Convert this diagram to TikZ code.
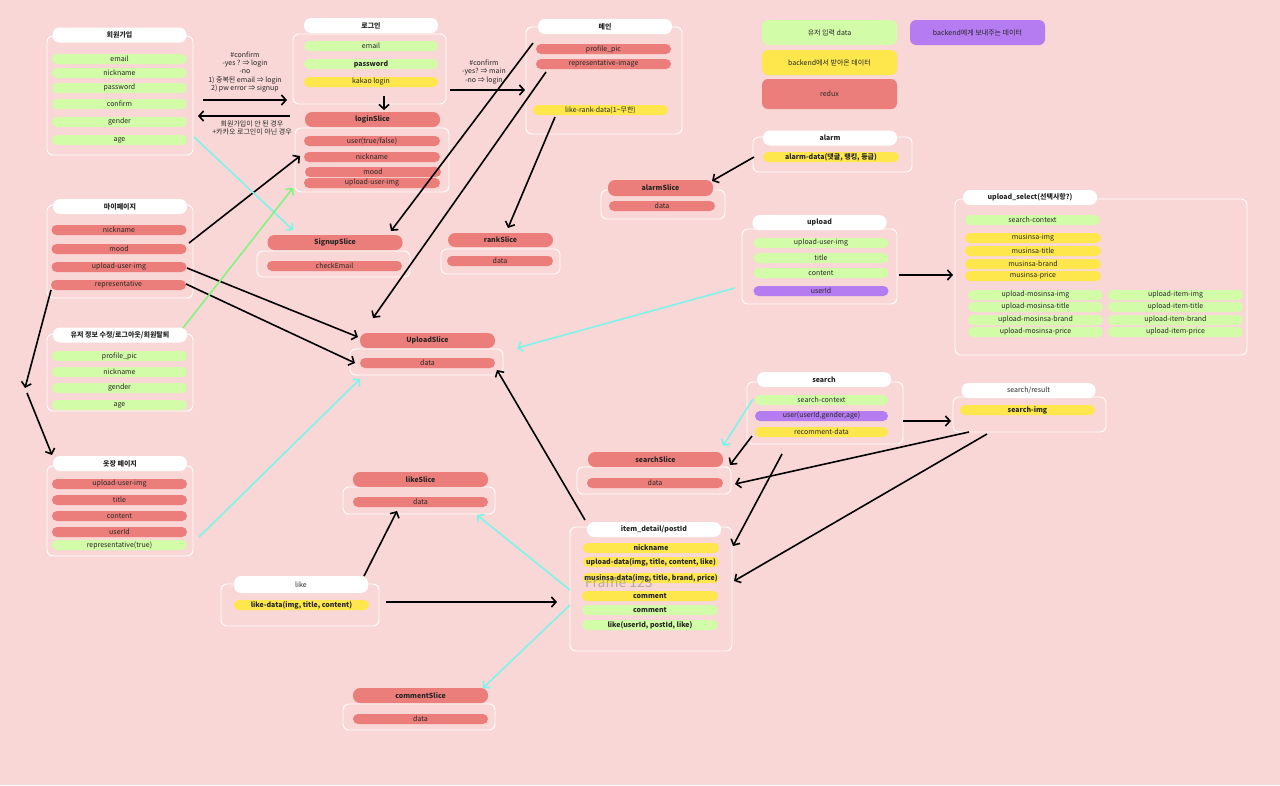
\documentclass[tikz,border=0pt]{standalone}
\usepackage{fontspec}
\setmainfont{Noto Sans CJK KR}
\usetikzlibrary{arrows.meta}

\definecolor{bgpink}{HTML}{F8D7D6}
\definecolor{usergreen}{HTML}{D3FCA8}
\definecolor{backyellow}{HTML}{FEE74C}
\definecolor{reduxred}{HTML}{EB7E7A}
\definecolor{sendpurple}{HTML}{B57BF1}
\definecolor{linkcyan}{HTML}{7EF4E9}
\definecolor{linkgreen}{HTML}{82F47E}

\tikzset{
  pill/.style={rounded corners=5pt, minimum width=135pt, minimum height=10pt,
    inner sep=0pt, text=black!85, font=\fontsize{7}{8}\selectfont},
  ugreen/.style={pill, fill=usergreen},
  byellow/.style={pill, fill=backyellow},
  rred/.style={pill, fill=reduxred},
  spurple/.style={pill, fill=sendpurple},
  bold/.style={font=\bfseries\fontsize{7}{8}\selectfont},
  note/.style={align=center, inner sep=0pt, text=black!85, font=\fontsize{7}{8.3}\selectfont},
  link/.style={->, line width=1.6pt},
}

\begin{document}
\begin{tikzpicture}[x=1pt,y=-1pt,>={Straight Barb[length=4.5pt,width=10pt]}]

  \fill[bgpink] (0,0) rectangle (1280,785);
  \useasboundingbox (0,0) rectangle (1280,785);

  % body frames
  \begin{scope}[every node/.style={draw=white, line width=0.9pt, rounded corners=6pt, inner sep=0pt}]
    \node[minimum width=146pt, minimum height=119pt] (signup)   at (120,95.5)  {};
    \node[minimum width=153pt, minimum height=70pt]  (login)    at (369.5,69)  {};
    \node[minimum width=154pt, minimum height=64pt]  (lslice)   at (372,160)   {};
    \node[minimum width=156pt, minimum height=107pt] (main)     at (604,80.5)  {};
    \node[minimum width=146pt, minimum height=93pt]  (mypage)   at (120,251.5) {};
    \node[minimum width=153pt, minimum height=26pt]  (sslice)   at (333.5,264) {};
    \node[minimum width=119pt, minimum height=25pt]  (rslice)   at (500.5,261.5) {};
    \node[minimum width=159pt, minimum height=35pt]  (alarm)    at (832.5,154.5) {};
    \node[minimum width=124pt, minimum height=29pt]  (aslice)   at (663,204.5) {};
    \node[minimum width=155pt, minimum height=75pt]  (upload)   at (819.5,266.5) {};
    \node[minimum width=292pt, minimum height=156pt] (uselect)  at (1101,277)  {};
    \node[minimum width=153pt, minimum height=26pt]  (uslice)   at (426.5,362) {};
    \node[minimum width=146pt, minimum height=77pt]  (userinfo) at (120,372.5) {};
    \node[minimum width=146pt, minimum height=90pt]  (closet)   at (120,511)   {};
    \node[minimum width=152pt, minimum height=27pt]  (likeslice) at (419,500.5) {};
    \node[minimum width=158pt, minimum height=42pt]  (like)     at (300,605)   {};
    \node[minimum width=152pt, minimum height=26pt]  (cslice)   at (419,717)   {};
    \node[minimum width=156pt, minimum height=62pt]  (search)   at (825,413)   {};
    \node[minimum width=153pt, minimum height=35pt]  (sresult)  at (1029.5,414.5) {};
    \node[minimum width=154pt, minimum height=27pt]  (srslice)  at (654,480.5) {};
    \node[minimum width=162pt, minimum height=124pt] (detail)   at (651,589)   {};
  \end{scope}

  % page headers
  \begin{scope}[every node/.style={fill=white, rounded corners=7pt, minimum width=134pt,
      minimum height=15pt, inner sep=0pt, text=black!85, font=\bfseries\fontsize{7}{8}\selectfont}]
    \node (signup-h)   at (119.5,35)   {회원가입};
    \node (login-h)    at (371,25.5)   {로그인};
    \node (main-h)     at (605,26.5)   {메인};
    \node (mypage-h)   at (120,206.5)  {마이페이지};
    \node (userinfo-h) at (120,335)    {유저 정보 수정/로그아웃/회원탈퇴};
    \node (closet-h)   at (120,463.5)  {옷장 페이지};
    \node (alarm-h)    at (830,138)    {alarm};
    \node (upload-h)   at (819.5,222.5) {upload};
    \node (uselect-h)  at (1030,197.5) {upload\_select(선택사항?)};
    \node (search-h)   at (824,379.5)  {search};
    \node (detail-h)   at (654,529.5)  {item\_detail/postId};
    \node[minimum height=17pt, font=\fontsize{7}{8}\selectfont] (like-h) at (301,584.5) {like};
    \node[font=\fontsize{7}{8}\selectfont] (sresult-h) at (1028.5,390.5) {search/result};
  \end{scope}

  % slice headers
  \begin{scope}[every node/.style={fill=reduxred, rounded corners=7pt, minimum width=135pt,
      minimum height=15pt, inner sep=0pt, text=black!85, font=\bfseries\fontsize{7}{8}\selectfont}]
    \node (lslice-h)  at (372.5,119.5) {loginSlice};
    \node (sslice-h)  at (335,242.5)   {SignupSlice};
    \node[minimum width=105pt, minimum height=14pt] (rslice-h) at (500.5,240) {rankSlice};
    \node[minimum width=105pt, minimum height=16pt] (aslice-h) at (660.5,188) {alarmSlice};
    \node (uslice-h)  at (427.5,340.5) {UploadSlice};
    \node (likeslice-h) at (420.5,479.5) {likeSlice};
    \node (cslice-h)  at (420.5,695.5) {commentSlice};
    \node (srslice-h) at (655.5,459.5) {searchSlice};
  \end{scope}

  % 회원가입
  \node[ugreen] (su1) at (119.5,59)  {email};
  \node[ugreen] (su2) at (119.5,73)  {nickname};
  \node[ugreen] (su3) at (119.5,88)  {password};
  \node[ugreen] (su4) at (119.5,104) {confirm};
  \node[ugreen] (su5) at (119.5,122) {gender};
  \node[ugreen] (su6) at (119.5,140) {age};

  % 로그인
  \node[ugreen, minimum width=134pt] (lo1) at (371,46) {email};
  \node[ugreen, bold, minimum width=134pt] (lo2) at (371,64) {password};
  \node[byellow, minimum width=134pt] (lo3) at (371,82) {kakao login};

  % loginSlice
  \node[rred, minimum width=136pt] (ls1) at (372,141) {user(true/false)};
  \node[rred, minimum width=136pt] (ls2) at (372,157) {nickname};
  \node[rred, minimum width=136pt] (ls3) at (373,172) {mood};
  \node[rred, minimum width=136pt] (ls4) at (372,183) {upload-user-img};

  % 메인
  \node[rred] (ma1) at (603.5,49) {profile\_pic};
  \node[rred] (ma2) at (603.5,64) {representative-image};
  \node[byellow] (ma3) at (600.5,110) {like-rank-data(1\textasciitilde 무한)};

  % 마이페이지
  \node[rred] (my1) at (119,230) {nickname};
  \node[rred] (my2) at (119,249) {mood};
  \node[rred] (my3) at (119,267) {upload-user-img};
  \node[rred] (my4) at (118.5,285) {representative};

  % slices
  \node[rred] (ss1) at (334.5,266) {checkEmail};
  \node[rred, minimum width=106pt] (rs1) at (500,261) {data};
  \node[rred, minimum width=106pt] (as1) at (662,206) {data};
  \node[rred] (us1) at (427.5,363) {data};
  \node[rred] (lk1) at (420.5,502) {data};
  \node[rred] (cs1) at (420.5,719) {data};
  \node[rred, minimum width=136pt] (sr1) at (655,483) {data};

  % alarm
  \node[byellow, bold, minimum width=136pt] (al1) at (831,157) {alarm-data(댓글, 랭킹, 등급)};

  % upload
  \node[ugreen] (up1) at (821,243) {upload-user-img};
  \node[ugreen] (up2) at (821,258) {title};
  \node[ugreen] (up3) at (821,273) {content};
  \node[spurple] (up4) at (821,291) {userId};

  % upload_select
  \node[ugreen] (sel0) at (1032.5,220) {search-context};
  \node[byellow, minimum width=136pt] (sel1) at (1033,238) {musinsa-img};
  \node[byellow, minimum width=136pt] (sel2) at (1033,251) {musinsa-title};
  \node[byellow, minimum width=136pt] (sel3) at (1033,264) {musinsa-brand};
  \node[byellow, minimum width=136pt] (sel4) at (1033,276) {musinsa-price};
  \node[ugreen] (sel5) at (1035.5,295) {upload-mosinsa-img};
  \node[ugreen] (sel6) at (1035.5,307) {upload-mosinsa-title};
  \node[ugreen] (sel7) at (1035.5,320) {upload-mosinsa-brand};
  \node[ugreen] (sel8) at (1035.5,332) {upload-mosinsa-price};
  \node[ugreen] (sel9)  at (1175.5,295) {upload-item-img};
  \node[ugreen] (sel10) at (1175.5,307) {upload-item-title};
  \node[ugreen] (sel11) at (1175.5,320) {upload-item-brand};
  \node[ugreen] (sel12) at (1175.5,332) {upload-item-price};

  % 유저 정보 수정
  \node[ugreen] (ui1) at (119.5,356) {profile\_pic};
  \node[ugreen] (ui2) at (119.5,372) {nickname};
  \node[ugreen] (ui3) at (119.5,388) {gender};
  \node[ugreen] (ui4) at (119.5,405) {age};

  % 옷장 페이지
  \node[rred] (cl1) at (119.5,484) {upload-user-img};
  \node[rred] (cl2) at (119.5,500) {title};
  \node[rred] (cl3) at (119.5,516) {content};
  \node[rred] (cl4) at (119.5,532) {userId};
  \node[ugreen] (cl5) at (119.5,545) {representative(true)};

  % like
  \node[byellow, bold] (li1) at (301.5,605) {like-data(img, title, content)};

  % search
  \node[ugreen, minimum width=133pt] (se1) at (821.5,400) {search-context};
  \node[spurple, minimum width=133pt] (se2) at (821.5,416) {user(userId,gender,age)};
  \node[byellow, minimum width=133pt] (se3) at (821.5,432) {recomment-data};
  \node[byellow, bold] (re1) at (1027.5,410) {search-img};

  % item_detail
  \node[byellow, bold, minimum width=136pt] (de1) at (651,548) {nickname};
  \node[byellow, bold, minimum width=136pt] (de2) at (651,562) {upload-data(img, title, content, like)};
  \node[byellow, bold, minimum width=136pt] (de3) at (651,578) {musinsa-data(img, title, brand, price)};
  \node[byellow, bold, minimum width=136pt] (de4) at (650,596) {comment};
  \node[ugreen, bold, minimum width=136pt] (de5) at (650,610) {comment};
  \node[ugreen, bold, minimum width=136pt] (de6) at (650,625) {like(userId, postId, like)};
  \node[text=black!45, opacity=0.6, inner sep=0pt, font=\fontsize{14}{16}\selectfont] (frame) at (619,582) {Frame 123};

  % legend
  \begin{scope}[every node/.style={rounded corners=6pt, minimum width=135pt, minimum height=25pt,
      inner sep=0pt, text=black!85, font=\fontsize{7}{8}\selectfont}]
    \node[fill=usergreen]  (key-user) at (829.5,32.5) {유저 입력 data};
    \node[fill=sendpurple] (key-send) at (977.5,32.5) {backend에게 보내주는 데이터};
    \node[fill=backyellow] (key-back) at (829.5,62.5) {backend에서 받아온 데이터};
    \node[fill=reduxred, minimum height=30pt] (key-redux) at (829.5,94) {redux};
  \end{scope}

  % notes
  \node[note] (confirm-note) at (245,72) {\#confirm\\-yes ? ⇒ login\\-no\\1) 중복된 email ⇒ login\\2) pw error ⇒ signup};
  \node[note] (signup-note) at (252,128) {회원가입이 안 된 경우\\+카카오 로그인이 아닌 경우};
  \node[note] (main-note) at (484,72) {\#confirm\\-yes? ⇒ main\\-no ⇒ login};

  % connector ends
  \coordinate (c1a) at (203,100);  \coordinate (c1b) at (287,100);
  \coordinate (c2a) at (290,116);  \coordinate (c2b) at (198,116);
  \coordinate (c3a) at (384,96);   \coordinate (c3b) at (384,110);
  \coordinate (c4a) at (450,90);   \coordinate (c4b) at (525,90);
  \coordinate (c5a) at (533,43);   \coordinate (c5b) at (391,231);
  \coordinate (c6a) at (546,72);   \coordinate (c6b) at (373,318);
  \coordinate (c7a) at (555,117);  \coordinate (c7b) at (508,228);
  \coordinate (c8a) at (754,157);  \coordinate (c8b) at (712,181);
  \coordinate (c9a) at (899,275);  \coordinate (c9b) at (953,275);
  \coordinate (c10a) at (735,288); \coordinate (c10b) at (517,348);
  \coordinate (c11a) at (194,137); \coordinate (c11b) at (293,230);
  \coordinate (c12a) at (189,243); \coordinate (c12b) at (300,156);
  \coordinate (c13a) at (183,328); \coordinate (c13b) at (293,188);
  \coordinate (c14a) at (187,268); \coordinate (c14b) at (358,337);
  \coordinate (c15a) at (186,284); \coordinate (c15b) at (355,363);
  \coordinate (c16a) at (51,290);  \coordinate (c16b) at (25,388);
  \coordinate (c16c) at (27,393);  \coordinate (c16d) at (52,455);
  \coordinate (c17a) at (753,399); \coordinate (c17b) at (723,446);
  \coordinate (c18a) at (752,436); \coordinate (c18b) at (730,465);
  \coordinate (c19a) at (903,421); \coordinate (c19b) at (951,421);
  \coordinate (c20a) at (969,432); \coordinate (c20b) at (735,484);
  \coordinate (c21a) at (987,434); \coordinate (c21b) at (734,581);
  \coordinate (c22a) at (782,454); \coordinate (c22b) at (733,546);
  \coordinate (c23a) at (585,520); \coordinate (c23b) at (497,370);
  \coordinate (c24a) at (570,590); \coordinate (c24b) at (477,515);
  \coordinate (c25a) at (570,605); \coordinate (c25b) at (483,688);
  \coordinate (c26a) at (364,576); \coordinate (c26b) at (397,511);
  \coordinate (c27a) at (386,602); \coordinate (c27b) at (557,602);
  \coordinate (c28a) at (199,537); \coordinate (c28b) at (360,379);

  \begin{scope}[every path/.style={link}]
    \draw (c1a) -- (c1b);
    \draw (c2a) -- (c2b);
    \draw (c3a) -- (c3b);
    \draw (c4a) -- (c4b);
    \draw (c5a) -- (c5b);
    \draw (c6a) -- (c6b);
    \draw (c7a) -- (c7b);
    \draw (c8a) -- (c8b);
    \draw (c9a) -- (c9b);
    \draw (c12a) -- (c12b);
    \draw (c14a) -- (c14b);
    \draw (c15a) -- (c15b);
    \draw (c16a) -- (c16b);
    \draw (c16c) -- (c16d);
    \draw (c18a) -- (c18b);
    \draw (c19a) -- (c19b);
    \draw (c20a) -- (c20b);
    \draw (c21a) -- (c21b);
    \draw (c22a) -- (c22b);
    \draw (c23a) -- (c23b);
    \draw (c26a) -- (c26b);
    \draw (c27a) -- (c27b);
  \end{scope}

  \begin{scope}[every path/.style={link, draw=linkcyan}]
    \draw (c10a) -- (c10b);
    \draw (c11a) -- (c11b);
    \draw (c17a) -- (c17b);
    \draw (c24a) -- (c24b);
    \draw (c25a) -- (c25b);
    \draw (c28a) -- (c28b);
  \end{scope}
  \draw[link, draw=linkgreen] (c13a) -- (c13b);

\end{tikzpicture}
\end{document}
